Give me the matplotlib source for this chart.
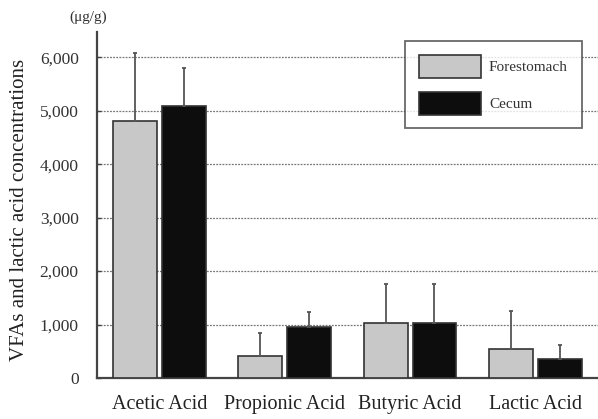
import matplotlib
matplotlib.use("Agg")
import matplotlib.pyplot as plt
from matplotlib.ticker import FuncFormatter
import numpy as np

categories = ["Acetic Acid", "Propionic Acid", "Butyric Acid", "Lactic Acid"]
forestomach = [4800, 410, 1035, 545]
forestomach_err = [1275, 440, 725, 705]
cecum = [5090, 955, 1025, 355]
cecum_err = [710, 285, 735, 265]
series_names = ["Forestomach", "Cecum"]
yticks = [0, 1000, 2000, 3000, 4000, 5000, 6000]

plt.rcParams['font.family'] = ['Liberation Serif', 'DejaVu Serif']

fig = plt.figure(figsize=(5.98, 4.19), dpi=100)
ax = fig.add_axes([96.7/598, 1 - 378/419, (598 - 96.7)/598, (378 - 31.7)/419])

x = np.arange(len(categories))
w = 0.35
gap = 0.02
edge = '#333333'
ax.bar(x - w/2 - gap, forestomach, w, color='#c8c8c8', edgecolor=edge, linewidth=1.2,
       yerr=[np.zeros(len(x)), forestomach_err], error_kw=dict(ecolor='#555555', elinewidth=1.3, capsize=1.5, capthick=1.3),
       label=series_names[0], zorder=3)
ax.bar(x + w/2 + gap, cecum, w, color='#0d0d0d', edgecolor=edge, linewidth=1.2,
       yerr=[np.zeros(len(x)), cecum_err], error_kw=dict(ecolor='#555555', elinewidth=1.3, capsize=1.5, capthick=1.3),
       label=series_names[1], zorder=3)

ax.set_xlim(-0.5, 3.5)
ax.set_ylim(0, 6480)
ax.set_yticks(yticks)
ax.yaxis.set_major_formatter(FuncFormatter(lambda v, p: f"{int(v):,}"))
ax.set_xticks(x)
ax.set_xticklabels(categories, fontsize=14.5, color='#222222')
ax.tick_params(axis='x', length=0, pad=12)
ax.tick_params(axis='y', direction='in', length=3, width=1, labelsize=12.5, color='#444444', labelcolor='#333333', pad=13)

ax.yaxis.grid(True, linestyle=(0, (1.5, 1)), color='#777777', linewidth=0.9, zorder=0)
ax.set_axisbelow(True)

for s in ['top', 'right']:
    ax.spines[s].set_visible(False)
for s in ['left', 'bottom']:
    ax.spines[s].set_color('#444444')
    ax.spines[s].set_linewidth(1.6)

ax.set_ylabel("VFAs and lactic acid concentrations", fontsize=15, color='#222222')
ax.yaxis.set_label_coords((29 - 96.7)/501.3, (378 - 210)/346.3)
fig.text(88/598, 1 - 17/419, "(μg/g)", fontsize=11, ha='center', va='center', color='#333333')

leg = ax.legend(loc='upper right', bbox_to_anchor=(1 - (598-581.5)/501.3, 1 - (41-31.7)/346.3),
                fontsize=11, frameon=True, fancybox=False, edgecolor='#444444',
                handlelength=4.1, handleheight=1.93, borderpad=0.9, labelspacing=0.92, handletextpad=0.5,
                borderaxespad=0)
leg.get_frame().set_linewidth(1.3)
for t in leg.get_texts():
    t.set_color('#333333')

fig.savefig("out.png", dpi=100)
